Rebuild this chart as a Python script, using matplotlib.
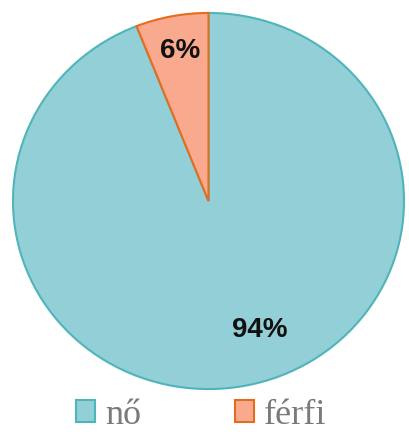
import matplotlib.pyplot as plt
from matplotlib.patches import Patch

labels = ['nő', 'férfi']
values = [94, 6]
fills = ['#92CFD7', '#F8A98E']
edges = ['#4FB5BA', '#E46C1E']

fig = plt.figure(figsize=(4.09, 4.32), dpi=100)
ax = fig.add_axes([12/409, 42/432, 393/409, 378/432])

wedges, _ = ax.pie(values, colors=fills, startangle=90, counterclock=False,
                   wedgeprops=dict(linewidth=1.5))
for w, ec in zip(wedges, edges):
    w.set_edgecolor(ec)
ax.set_aspect('auto')
ax.set_xlim(-1.005, 1.005)
ax.set_ylim(-1.005, 1.005)

# percentage labels
ax.text(0.26, -0.685, '%d%%' % values[0], ha='center', va='center',
        fontsize=20, fontweight='bold', family='Liberation Sans', color='#111111')
ax.text(-0.145, 0.8, '%d%%' % values[1], ha='center', va='center',
        fontsize=20, fontweight='bold', family='Liberation Sans', color='#111111')

handles = [Patch(facecolor=f, edgecolor=e, linewidth=1.5) for f, e in zip(fills, edges)]
fig.legend(handles, labels, loc='lower left', bbox_to_anchor=(0.125, -0.058),
           ncol=2, frameon=False, columnspacing=2.6, handlelength=0.52,
           handleheight=0.52, handletextpad=0.28, borderpad=0.2,
           prop=dict(family='Liberation Serif', size=26), labelcolor='#7A7A7A')

fig.savefig('out.png', dpi=100)
